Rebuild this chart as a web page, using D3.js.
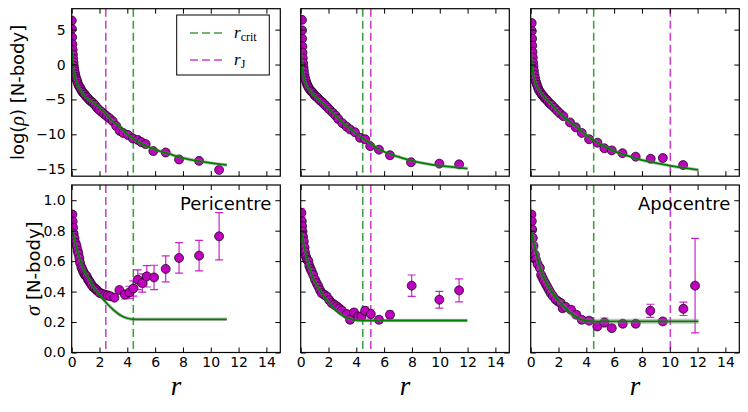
<!DOCTYPE html>
<html>
<head>
<meta charset="utf-8">
<script src="https://cdn.jsdelivr.net/npm/d3@7"></script>
<style>
  html, body { margin: 0; padding: 0; background: #fff; }
  svg { display: block; font-family: "DejaVu Sans", sans-serif; }
</style>
</head>
<body>
<div id="chart"></div>
<script>
// ---- data ----
const X_TICKS = [0, 2, 4, 6, 8, 10, 12, 14];
const RHO_TICKS = [-15, -10, -5, 0, 5];
const SIG_TICKS = [0, 0.2, 0.4, 0.6, 0.8, 1.0];
const PANEL_TITLES = ['Pericentre', '', 'Apocentre'];

// vertical markers per column
const R_CRIT = [4.43, 4.46, 4.53];
const R_J = [2.45, 5.04, 10.04];

// log density, N-body points [r, log rho]
const rhoPeri = [[0.01,6.3],[0.02,5.1],[0.03,3.9],[0.05,2.9],[0.07,2.1],[0.09,1.4],[0.11,0.8],[0.13,0.3],[0.15,-0.2],[0.18,-0.6],[0.21,-1.0],[0.25,-1.4],[0.29,-1.8],[0.34,-2.1],[0.40,-2.4],[0.46,-2.8],[0.53,-3.1],[0.60,-3.3],[0.68,-3.6],[0.76,-3.9],[0.85,-4.1],[0.95,-4.3],[1.05,-4.6],[1.16,-4.8],[1.28,-5.1],[1.40,-5.3],[1.53,-5.5],[1.67,-5.8],[1.82,-6.2],[1.98,-6.5],[2.15,-6.8],[2.33,-7.1],[2.52,-7.4],[2.72,-7.7],[2.95,-8.1],[3.2,-8.8],[3.45,-9.5],[3.7,-9.8],[4.05,-10.1],[4.4,-10.6],[4.75,-10.8],[5.0,-11.1],[5.32,-11.4],[5.87,-12.4],[6.76,-12.6],[7.72,-13.6],[9.16,-13.8],[10.6,-15.1]];
const rhoMid = [[0.09,6.4],[0.1,4.9],[0.1,3.7],[0.12,2.6],[0.13,1.7],[0.15,0.9],[0.17,0.2],[0.2,-0.4],[0.23,-0.9],[0.27,-1.5],[0.32,-2.0],[0.38,-2.4],[0.45,-2.8],[0.52,-3.1],[0.6,-3.4],[0.7,-3.7],[0.8,-3.9],[0.9,-4.1],[1.0,-4.4],[1.12,-4.6],[1.24,-4.8],[1.37,-5.1],[1.5,-5.3],[1.65,-5.6],[1.8,-5.9],[1.95,-6.2],[2.1,-6.5],[2.3,-6.9],[2.5,-7.3],[2.7,-7.8],[3.0,-8.4],[3.3,-8.9],[3.55,-9.3],[3.9,-9.7],[4.27,-10.5],[4.63,-10.7],[5.0,-11.7],[5.63,-12.2],[6.42,-13.0],[7.93,-14.0],[9.97,-14.2],[11.39,-14.3]];
const rhoApo = [[0.07,5.95],[0.08,4.8],[0.1,3.7],[0.11,2.7],[0.13,1.8],[0.15,1.0],[0.17,0.3],[0.2,-0.3],[0.23,-0.9],[0.27,-1.5],[0.32,-2.0],[0.38,-2.5],[0.45,-2.9],[0.52,-3.3],[0.6,-3.7],[0.7,-4.0],[0.8,-4.3],[0.9,-4.5],[1.0,-4.8],[1.12,-5.0],[1.25,-5.3],[1.38,-5.6],[1.5,-5.8],[1.7,-6.2],[1.9,-6.6],[2.1,-7.0],[2.35,-7.4],[2.83,-8.3],[3.24,-9.0],[3.67,-9.8],[4.2,-10.7],[4.8,-11.2],[5.3,-12.0],[5.83,-12.3],[6.6,-12.7],[7.55,-13.2],[8.63,-13.5],[9.5,-13.4],[10.96,-14.4]];

// log density, model curves [r, log rho]
const rhoModelPeri = [[0.02,2.0],[0.05,0.8],[0.1,-0.3],[0.2,-1.5],[0.4,-2.8],[0.7,-3.9],[1.0,-4.7],[1.5,-5.4],[2.0,-6.1],[2.5,-7.2],[3.0,-8.2],[3.5,-9.0],[4.0,-10.0],[4.5,-10.7],[5.0,-11.3],[6.0,-12.2],[7.0,-12.8],[8.0,-13.4],[9.0,-13.8],[10.0,-14.1],[11.15,-14.4]];
const rhoModelMid = [[0.02,2.0],[0.05,0.8],[0.1,-0.3],[0.2,-1.6],[0.4,-2.9],[0.7,-3.8],[1.0,-4.5],[1.5,-5.4],[2.0,-6.3],[2.5,-7.3],[3.0,-8.3],[3.5,-9.1],[4.0,-9.9],[4.5,-10.6],[5.0,-11.3],[6.0,-12.5],[7.0,-13.2],[8.0,-13.8],[9.0,-14.2],[10.0,-14.5],[11.0,-14.7],[12.0,-14.9]];
const rhoModelApo = [[0.02,2.0],[0.05,0.8],[0.1,-0.3],[0.2,-1.6],[0.4,-2.9],[0.7,-3.9],[1.0,-4.7],[1.5,-5.7],[2.0,-6.8],[2.5,-7.7],[3.0,-8.5],[3.5,-9.3],[4.0,-10.1],[4.5,-10.8],[5.0,-11.4],[6.0,-12.4],[7.0,-13.1],[8.0,-13.7],[9.0,-14.1],[10.0,-14.5],[11.0,-14.8],[12.06,-15.1]];

// velocity dispersion, N-body points [r, sigma, error]
const sigPeri = [[0.05,0.906,0.02],[0.07,0.86,0.02],[0.1,0.82,0.02],[0.14,0.78,0.02],[0.2,0.75,0.02],[0.27,0.72,0.02],[0.35,0.70,0.02],[0.42,0.67,0.02],[0.48,0.65,0.02],[0.55,0.62,0.02],[0.6,0.59,0.02],[0.7,0.56,0.02],[0.77,0.545,0.02],[0.84,0.53,0.02],[0.92,0.515,0.02],[1.0,0.505,0.02],[1.08,0.50,0.02],[1.17,0.48,0.02],[1.25,0.47,0.02],[1.32,0.46,0.02],[1.42,0.445,0.02],[1.55,0.43,0.02],[1.68,0.42,0.02],[1.8,0.41,0.02],[1.92,0.40,0.02],[2.04,0.39,0.02],[2.2,0.385,0.02],[2.4,0.38,0.02],[2.58,0.375,0.02],[2.76,0.37,0.02],[3.07,0.36,0.02],[3.43,0.41,0.02],[3.83,0.38,0.03],[4.15,0.395,0.04],[4.43,0.42,0.05],[4.75,0.478,0.065],[5.08,0.456,0.06],[5.4,0.50,0.07],[5.92,0.493,0.08],[6.76,0.549,0.085],[7.72,0.621,0.1],[9.16,0.636,0.1],[10.6,0.763,0.155]];
const sigMid = [[0.05,0.917,0.03],[0.08,0.862,0.03],[0.1,0.83,0.03],[0.13,0.796,0.03],[0.17,0.76,0.03],[0.22,0.73,0.03],[0.28,0.69,0.03],[0.3,0.66,0.02],[0.38,0.63,0.02],[0.46,0.61,0.02],[0.55,0.6,0.02],[0.62,0.57,0.02],[0.7,0.55,0.02],[0.79,0.533,0.02],[0.9,0.51,0.02],[1.03,0.478,0.02],[1.15,0.455,0.02],[1.27,0.434,0.02],[1.39,0.41,0.02],[1.51,0.39,0.02],[1.69,0.38,0.02],[1.87,0.368,0.02],[2.05,0.345,0.02],[2.23,0.325,0.02],[2.41,0.315,0.02],[2.59,0.303,0.02],[2.77,0.29,0.02],[2.95,0.276,0.02],[3.31,0.253,0.02],[3.55,0.215,0.02],[3.83,0.263,0.02],[4.14,0.237,0.025],[4.38,0.237,0.02],[4.63,0.274,0.025],[5.04,0.253,0.03],[5.63,0.215,0.02],[6.42,0.248,0.025],[7.98,0.439,0.07],[9.97,0.347,0.055],[11.39,0.408,0.075]];
const sigApo = [[0.05,0.906,0.02],[0.08,0.862,0.02],[0.11,0.807,0.02],[0.15,0.752,0.02],[0.2,0.70,0.02],[0.3,0.643,0.02],[0.38,0.61,0.02],[0.5,0.58,0.02],[0.66,0.555,0.02],[0.75,0.51,0.02],[0.85,0.49,0.02],[0.96,0.47,0.02],[1.08,0.45,0.02],[1.2,0.43,0.02],[1.32,0.41,0.02],[1.44,0.39,0.02],[1.6,0.37,0.02],[1.8,0.347,0.02],[1.98,0.335,0.02],[2.16,0.325,0.02],[2.3,0.29,0.02],[2.5,0.30,0.02],[2.9,0.281,0.02],[3.28,0.248,0.02],[3.67,0.215,0.02],[4.2,0.209,0.02],[4.79,0.171,0.02],[5.3,0.197,0.03],[5.83,0.16,0.02],[6.62,0.189,0.02],[7.55,0.189,0.02],[8.6,0.274,0.043],[9.5,0.204,0.02],[10.98,0.287,0.044],[11.82,0.439,0.31]];

// velocity dispersion, model curves [r, sigma]
const sigModelPeri = [[0,0.81],[0.2,0.74],[0.4,0.67],[0.6,0.61],[0.84,0.55],[1.2,0.49],[1.56,0.43],[2.0,0.38],[2.5,0.325],[3.0,0.28],[3.5,0.245],[4.0,0.225],[4.5,0.218],[5.0,0.218],[8.0,0.218],[11.15,0.218]];
const sigModelMid = [[0,0.81],[0.2,0.72],[0.4,0.64],[0.6,0.57],[0.8,0.51],[1.0,0.47],[1.5,0.39],[2.0,0.33],[2.5,0.28],[3.0,0.245],[3.5,0.222],[4.0,0.212],[4.5,0.21],[8.0,0.21],[11.98,0.21]];
const sigModelApo = [[0,0.82],[0.2,0.73],[0.4,0.65],[0.6,0.58],[0.8,0.52],[1.0,0.48],[1.5,0.40],[2.0,0.34],[2.5,0.29],[3.0,0.25],[3.5,0.222],[4.0,0.208],[4.5,0.205],[8.0,0.205],[12.06,0.205]];

// ---- layout ----
const W = 748, H = 412;
const COL_X = [71.7, 300.7, 530.7];
const PANEL_W = 208.6;
const ROW_Y = [8.7, 185];
const PANEL_H = 167.5;

const MAGENTA = '#bf00bf';
const GREEN = '#007f00';
const DASH = '8,4';

const svg = d3.select('#chart').append('svg')
  .attr('width', W)
  .attr('height', H);

const rhoPts = [rhoPeri, rhoMid, rhoApo];
const rhoModels = [rhoModelPeri, rhoModelMid, rhoModelApo];
const sigPts = [sigPeri, sigMid, sigApo];
const sigModels = [sigModelPeri, sigModelMid, sigModelApo];

function drawPanel(col, row) {
  const x0 = COL_X[col], y0 = ROW_Y[row];
  const x = d3.scaleLinear().domain([0, 15]).range([x0, x0 + PANEL_W]);
  const y = row === 0
    ? d3.scaleLinear().domain([-16, 8]).range([y0 + PANEL_H, y0])
    : d3.scaleLinear().domain([0, 1.1]).range([y0 + PANEL_H, y0]);
  const yTicks = row === 0 ? RHO_TICKS : SIG_TICKS;

  const clipId = `clip-${col}-${row}`;
  svg.append('clipPath').attr('id', clipId)
    .append('rect')
    .attr('x', x0).attr('y', y0).attr('width', PANEL_W).attr('height', PANEL_H);

  const g = svg.append('g');
  const plot = g.append('g').attr('clip-path', `url(#${clipId})`);

  // vertical markers
  plot.append('line')
    .attr('x1', x(R_CRIT[col])).attr('x2', x(R_CRIT[col]))
    .attr('y1', y0).attr('y2', y0 + PANEL_H)
    .attr('stroke', GREEN).attr('stroke-opacity', 0.75)
    .attr('stroke-width', 1.6).attr('stroke-dasharray', DASH);
  plot.append('line')
    .attr('x1', x(R_J[col])).attr('x2', x(R_J[col]))
    .attr('y1', y0).attr('y2', y0 + PANEL_H)
    .attr('stroke', MAGENTA).attr('stroke-opacity', 0.75)
    .attr('stroke-width', 1.6).attr('stroke-dasharray', DASH);

  const pts = row === 0 ? rhoPts[col] : sigPts[col];
  const model = row === 0 ? rhoModels[col] : sigModels[col];

  // error bars (dispersion only)
  if (row === 1) {
    const eb = plot.append('g')
      .attr('stroke', MAGENTA).attr('stroke-width', 1.2);
    pts.forEach(d => {
      const op = d[2] > 0.035 ? 0.85 : 0.45;
      const cx = x(d[0]);
      eb.append('line')
        .attr('x1', cx).attr('x2', cx)
        .attr('y1', y(d[1] - d[2])).attr('y2', y(d[1] + d[2]))
        .attr('stroke-opacity', op);
      [d[1] - d[2], d[1] + d[2]].forEach(v => {
        eb.append('line')
          .attr('x1', cx - 4).attr('x2', cx + 4)
          .attr('y1', y(v)).attr('y2', y(v))
          .attr('stroke-opacity', op);
      });
    });
  }

  plot.selectAll('circle.pt')
    .data(pts)
    .join('circle')
    .attr('class', 'pt')
    .attr('cx', d => x(d[0]))
    .attr('cy', d => y(d[1]))
    .attr('r', 4.5)
    .attr('fill', MAGENTA)
    .attr('stroke', '#000')
    .attr('stroke-width', 0.7);

  const line = d3.line()
    .x(d => x(d[0]))
    .y(d => y(d[1]))
    .curve(d3.curveMonotoneX);

  plot.append('path')
    .datum(model)
    .attr('fill', 'none')
    .attr('stroke', '#7a7a7a')
    .attr('stroke-opacity', 0.45)
    .attr('stroke-width', col === 2 && row === 1 ? 5 : 3.5)
    .attr('d', line);
  plot.append('path')
    .datum(model)
    .attr('fill', 'none')
    .attr('stroke', GREEN)
    .attr('stroke-width', 1.8)
    .attr('d', line);

  // axes with inward ticks on all sides
  g.append('g')
    .attr('transform', `translate(0,${y0 + PANEL_H})`)
    .call(d3.axisBottom(x).tickValues(X_TICKS).tickSize(-5).tickPadding(5)
      .tickFormat(row === 1 ? d3.format('d') : ''));
  g.append('g')
    .attr('transform', `translate(0,${y0})`)
    .call(d3.axisTop(x).tickValues(X_TICKS).tickSize(-5).tickFormat(''));
  g.append('g')
    .attr('transform', `translate(${x0},0)`)
    .call(d3.axisLeft(y).tickValues(yTicks).tickSize(-5).tickPadding(6)
      .tickFormat(col === 0 ? (row === 0 ? d => d3.format('d')(d).replace('-', '\u2212') : d3.format('.1f')) : ''));
  g.append('g')
    .attr('transform', `translate(${x0 + PANEL_W},0)`)
    .call(d3.axisRight(y).tickValues(yTicks).tickSize(-5).tickFormat(''));

  g.selectAll('.domain').remove();
  g.selectAll('.tick line').attr('stroke', '#000').attr('stroke-width', 1);
  g.selectAll('.tick text')
    .attr('fill', '#000')
    .style('font-family', '"DejaVu Sans", sans-serif')
    .style('font-size', '14px');

  g.append('rect')
    .attr('x', x0).attr('y', y0)
    .attr('width', PANEL_W).attr('height', PANEL_H)
    .attr('fill', 'none')
    .attr('stroke', '#000')
    .attr('stroke-width', 1.2);

  if (row === 1 && PANEL_TITLES[col]) {
    g.append('text')
      .attr('x', x0 + PANEL_W - 9)
      .attr('y', y0 + 25)
      .attr('text-anchor', 'end')
      .style('font-size', '18px')
      .text(PANEL_TITLES[col]);
  }

  if (row === 1) {
    g.append('text')
      .attr('x', x0 + PANEL_W / 2)
      .attr('y', 395)
      .attr('text-anchor', 'middle')
      .style('font-family', '"Liberation Serif", serif')
      .style('font-style', 'italic')
      .style('font-size', '27px')
      .text('r');
  }
}

[0, 1].forEach(row => [0, 1, 2].forEach(col => drawPanel(col, row)));

// y labels
const yl1 = svg.append('text')
  .attr('transform', `translate(24,${ROW_Y[0] + PANEL_H / 2}) rotate(-90)`)
  .attr('text-anchor', 'middle')
  .style('font-size', '18px');
yl1.append('tspan').text('log(');
yl1.append('tspan').style('font-family', '"Liberation Serif", serif').style('font-style', 'italic').style('font-size', '20px').text('ρ');
yl1.append('tspan').text(') [N-body]');

const yl2 = svg.append('text')
  .attr('transform', `translate(40,${ROW_Y[1] + PANEL_H / 2}) rotate(-90)`)
  .attr('text-anchor', 'middle')
  .style('font-size', '18px');
yl2.append('tspan').style('font-family', '"Liberation Serif", serif').style('font-style', 'italic').style('font-size', '21px').text('σ');
yl2.append('tspan').text(' [N-body]');

// legend in the first panel
const lg = svg.append('g');
lg.append('rect')
  .attr('x', 176.7).attr('y', 15)
  .attr('width', 92.6).attr('height', 60)
  .attr('fill', '#fff')
  .attr('stroke', '#000')
  .attr('stroke-width', 1);
const legendItems = [
  { color: GREEN, sub: 'crit' },
  { color: MAGENTA, sub: 'J' }
];
legendItems.forEach((item, i) => {
  const ly = 33 + i * 27;
  lg.append('line')
    .attr('x1', 190).attr('x2', 222)
    .attr('y1', ly).attr('y2', ly)
    .attr('stroke', item.color).attr('stroke-opacity', 0.75)
    .attr('stroke-width', 1.6).attr('stroke-dasharray', DASH);
  const t = lg.append('text')
    .attr('x', 234).attr('y', ly + 5)
    .style('font-family', '"Liberation Serif", serif')
    .style('font-size', '17px');
  t.append('tspan').style('font-style', 'italic').text('r');
  t.append('tspan').attr('dy', 3).style('font-size', '12px').text(item.sub);
});
</script>
</body>
</html>
